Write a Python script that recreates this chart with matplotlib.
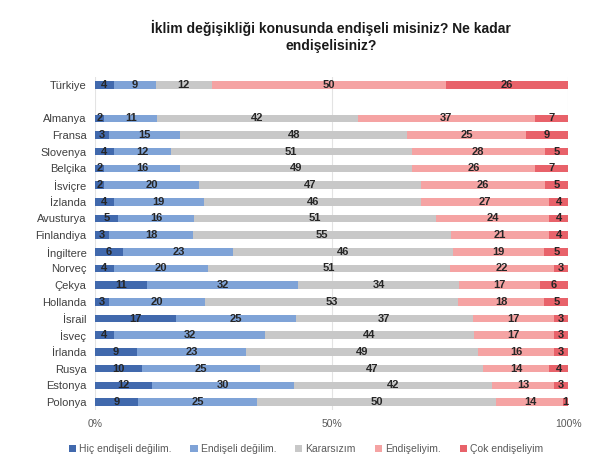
import numpy as np
import matplotlib.pyplot as plt

plt.rcParams['font.family'] = ['Liberation Sans', 'DejaVu Sans']

countries = ['Türkiye', '', 'Almanya', 'Fransa', 'Slovenya', 'Belçika', 'İsviçre',
             'İzlanda', 'Avusturya', 'Finlandiya', 'İngiltere', 'Norveç', 'Çekya',
             'Hollanda', 'İsrail', 'İsveç', 'İrlanda', 'Rusya', 'Estonya', 'Polonya']

hic = [4, 0, 2, 3, 4, 2, 2, 4, 5, 3, 6, 4, 11, 3, 17, 4, 9, 10, 12, 9]
degil = [9, 0, 11, 15, 12, 16, 20, 19, 16, 18, 23, 20, 32, 20, 25, 32, 23, 25, 30, 25]
kararsiz = [12, 0, 42, 48, 51, 49, 47, 46, 51, 55, 46, 51, 34, 53, 37, 44, 49, 47, 42, 50]
endiseli = [50, 0, 37, 25, 28, 26, 26, 27, 24, 21, 19, 22, 17, 18, 17, 17, 16, 14, 13, 14]
cok = [26, 0, 7, 9, 5, 7, 5, 4, 4, 4, 5, 3, 6, 5, 3, 3, 3, 4, 3, 1]

series = [hic, degil, kararsiz, endiseli, cok]
names = ['Hiç endişeli değilim.', 'Endişeli değilim.', 'Kararsızım',
         'Endişeliyim.', 'Çok endişeliyim']
colors = ['#4169ad', '#7fa3d7', '#c8c8c8', '#f5a3a3', '#e8626a']

data = np.array(series, dtype=float)
totals = data.sum(axis=0)
totals[totals == 0] = 1
shares = data / totals

fig = plt.figure(figsize=(6, 4.7), dpi=100)
ax = fig.add_axes([0.158, 0.127, 0.789, 0.710])

y = np.arange(len(countries))
left = np.zeros(len(countries))
for vals, sh, name, col in zip(series, shares, names, colors):
    ax.barh(y, sh, left=left, height=0.45, color=col, label=name, zorder=2)
    for i, (v, s) in enumerate(zip(vals, sh)):
        if v > 0:
            ax.text(left[i] + s / 2, y[i], str(v), ha='center', va='center',
                    fontsize=8, fontweight='bold', color='#262626', zorder=3)
    left += sh

ax.set_ylim(len(countries) - 0.5, -0.5)
ax.set_xlim(0, 1)
ax.set_yticks(y)
ax.set_yticklabels(countries, fontsize=8, color='#404040')
ax.set_xticks([0, 0.5, 1])
ax.set_xticklabels(['0%', '50%', '100%'], fontsize=7.5, color='#595959')
ax.tick_params(length=0, pad=6)
ax.grid(axis='x', color='#e3e3e3', linewidth=0.8, zorder=0)
for s in ax.spines.values():
    s.set_visible(False)

fig.text(0.552, 0.922, 'İklim değişikliği konusunda endişeli misiniz? Ne kadar\nendişelisiniz?',
         ha='center', va='center', fontsize=10, fontweight='bold', color='#1a1a1a',
         linespacing=1.3)

fig.legend(loc='center', bbox_to_anchor=(0.51, 0.045), ncol=5, frameon=False,
           fontsize=7.5, handlelength=0.7, handleheight=0.7, handletextpad=0.3,
           columnspacing=1.8, labelcolor='#595959')

fig.savefig('out.png', dpi=100)
